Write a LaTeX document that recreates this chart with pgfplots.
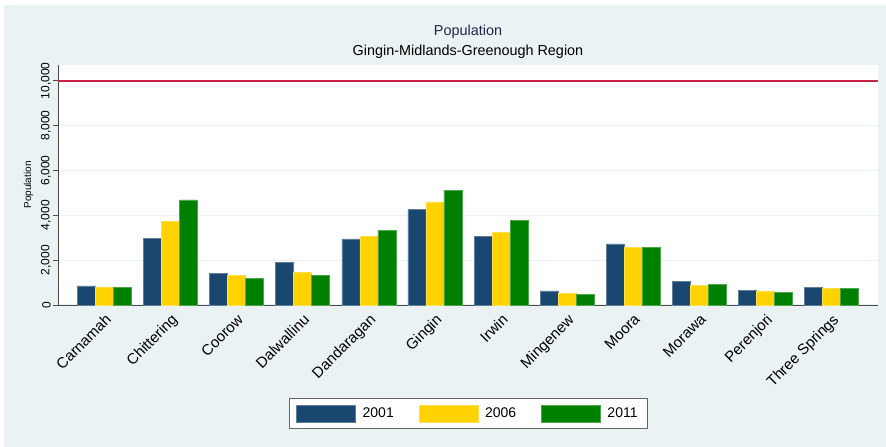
\documentclass[border=0pt]{standalone}
\usepackage{pgfplots}
\usepackage{pgfplotstable}
\pgfplotsset{compat=1.18}
\usepackage{fontspec}
\setmainfont{Liberation Sans}
\definecolor{sNavy}{RGB}{26,71,111}
\definecolor{sGold}{RGB}{255,210,0}
\definecolor{sGreen}{RGB}{0,128,0}
\definecolor{sBg}{RGB}{234,242,243}
\definecolor{sRed}{RGB}{200,35,70}
\definecolor{sTitle}{RGB}{30,40,75}
\pgfplotstableread{
x y2001 y2006 y2011
0 848 804 777
1 2964 3733 4684
2 1422 1307 1173
3 1910 1467 1320
4 2950 3053 3333
5 4267 4593 5126
6 3053 3230 3763
7 625 515 480
8 2726 2578 2578
9 1037 889 919
10 637 593 548
11 770 741 741
}\popdata
\begin{document}
\begin{tikzpicture}
\path[use as bounding box] (0pt,0pt) rectangle (886pt,447pt);
\fill[sBg] (4pt,0pt) rectangle (886pt,442pt);
\node[font=\fontsize{14.4}{17}\selectfont, text=sTitle] at (468pt,415pt) {Population};
\node[font=\fontsize{14.4}{17}\selectfont, text=black] at (468pt,395pt) {Gingin-Midlands-Greenough Region};
\begin{axis}[
  at={(58pt,142pt)}, anchor=south west,
  scale only axis, width=820pt, height=240pt,
  xmin=-0.7, xmax=11.7, ymin=0, ymax=10700,
  ybar, bar width=18pt,
  axis background/.style={fill=white},
  axis x line*=bottom, axis y line*=left,
  axis line style={black!70, line width=0.8pt},
  xtick={0,...,11},
  xticklabels={Carnamah,Chittering,Coorow,Dalwallinu,Dandaragan,Gingin,Irwin,Mingenew,Moora,Morawa,Perenjori,Three Springs},
  xticklabel style={rotate=45, anchor=north east, font=\fontsize{15}{17}\selectfont, inner sep=2pt},
  xtick style={draw=none},
  ytick={0,2000,4000,6000,8000,10000},
  yticklabel style={rotate=90, anchor=south, font=\fontsize{12}{14}\selectfont, inner sep=2pt},
  ytick style={black!70, line width=0.8pt},
  major tick length=5pt, tick align=outside,
  scaled y ticks=false,
  /pgf/number format/assume math mode=true,
  /pgf/number format/1000 sep={,},
  ymajorgrids, grid style={sBg, line width=1.2pt},
  ylabel={Population},
  ylabel style={font=\fontsize{10}{12}\selectfont, at={(axis description cs:-0.036,0.5)}, anchor=center},
  legend image code/.code={\draw[#1] (0pt,-8.5pt) rectangle (59pt,8.5pt); \path[draw=none,fill=none] (64pt,0pt);},
  legend style={at={(0.5,-0.5167)}, anchor=south, legend columns=3,
    draw=black!60, line width=0.8pt, fill=white,
    font=\fontsize{14}{16}\selectfont, inner xsep=7.5pt, inner ysep=6.5pt,
    /tikz/every even column/.append style={column sep=23pt}},
]
\addplot[fill=sNavy, draw=sNavy!70!white, line width=0.5pt, bar shift=-18pt] table[x=x,y=y2001] {\popdata};
\addplot[fill=sGold, draw=sGold!70!white, line width=0.5pt, bar shift=0pt] table[x=x,y=y2006] {\popdata};
\addplot[fill=sGreen, draw=sGreen!70!white, line width=0.5pt, bar shift=18pt] table[x=x,y=y2011] {\popdata};
\legend{2001,2006,2011}
\addplot[sharp plot, sRed, line width=1.8pt, forget plot] coordinates {(-0.7,10000) (11.7,10000)};
\end{axis}
\end{tikzpicture}
\end{document}
